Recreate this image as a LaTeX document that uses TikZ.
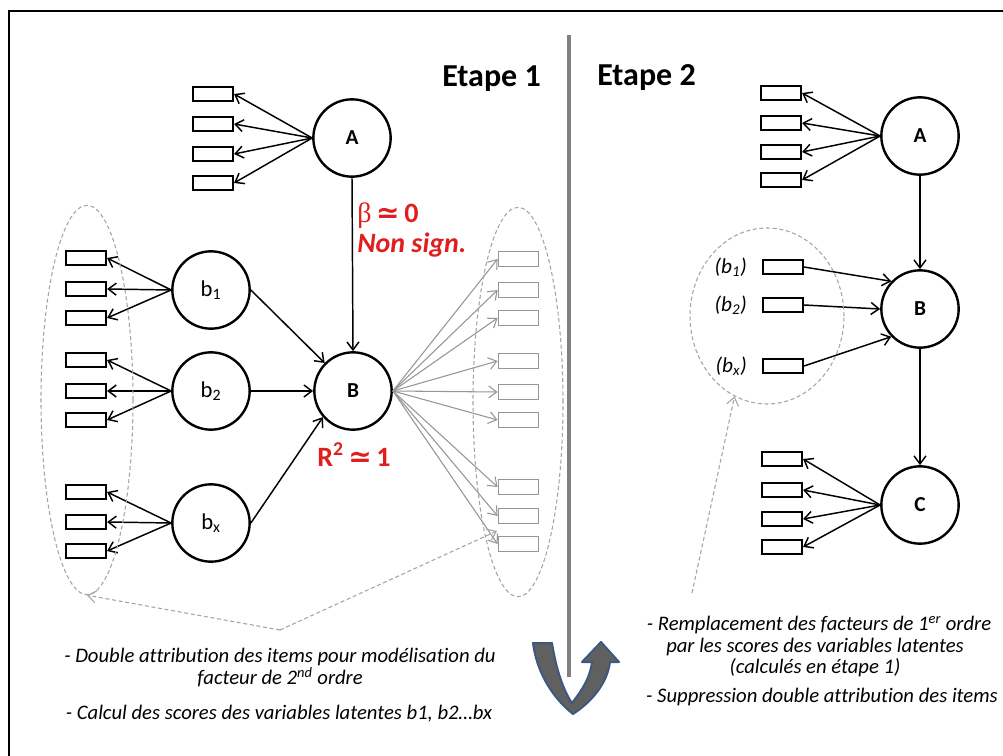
\documentclass[tikz,border=0pt]{standalone}
\usepackage{fontspec}
\setmainfont[Ligatures=CommonOff]{Carlito}
\newfontfamily\dejavu{DejaVu Sans}
\newfontfamily\serifgr{Liberation Serif}
\usetikzlibrary{arrows.meta,shapes.geometric}
\definecolor{redlab}{RGB}{224,30,30}
\definecolor{gline}{RGB}{150,150,150}
\definecolor{dline}{RGB}{165,165,165}
\definecolor{divgray}{RGB}{128,128,128}
\definecolor{ufill}{RGB}{96,96,96}
\definecolor{uedge}{RGB}{62,88,132}
\begin{document}
\begin{tikzpicture}[x=0.75pt,y=-0.75pt,
  lat/.style={circle,draw,line width=1.8pt,minimum size=58pt,inner sep=0pt,font=\fontsize{17}{20}\selectfont},
  latb/.style={lat,font=\fontsize{16}{19}\selectfont\bfseries},
  item/.style={rectangle,draw,line width=1.6pt,minimum width=30pt,minimum height=10pt,inner sep=0pt},
  gitem/.style={rectangle,draw=gline,line width=0.9pt,minimum width=30.5pt,minimum height=11pt,inner sep=0pt},
  arr/.style={-{Straight Barb[length=6pt,width=9pt]},line width=1.1pt},
  garr/.style={-{Straight Barb[length=6pt,width=9pt]},draw=gline,line width=0.8pt},
  dell/.style={ellipse,draw=dline,dashed,dash pattern=on 3pt off 2pt,line width=0.8pt,inner sep=0pt},
  darr/.style={-{Straight Barb[length=6pt,width=9pt]},draw=dline,dash pattern=on 3pt off 2pt,line width=0.8pt},
  ttl/.style={font=\fontsize{24}{28}\selectfont\bfseries,inner sep=0pt},
  redt/.style={text=redlab,font=\fontsize{21}{24}\selectfont\bfseries,inner sep=0pt},
  btxt/.style={font=\fontsize{15.5}{18}\selectfont\itshape,inner sep=0pt},
  blab/.style={font=\fontsize{16}{19}\selectfont\itshape,inner sep=0pt}]
\useasboundingbox (0,0) rectangle (1003,756);
\fill[white] (0,0) rectangle (1003,756);
% frame (top and left)
\draw[line width=1.5pt] (9,756) -- (9,11) -- (1003,11);
% divider
\draw[divgray,line width=3pt] (569,35) -- (569,677);
% titles
\node[ttl,anchor=base east] (e1) at (541,87) {Etape 1};
\node[ttl,anchor=base west] (e2) at (597,86) {Etape 2};

% ===== Etape 1 =====
\node[latb] (A1) at (352,138) {A};
\node[latb] (B1) at (353,391) {B};
\node[lat] (b1) at (211,290) {b\textsubscript{1}};
\node[lat] (b2) at (211,391) {b\textsubscript{2}};
\node[lat] (bx) at (211,523) {b\textsubscript{x}};

\foreach \i/\y in {1/94,2/124,3/154,4/183}{
  \node[item] (ai\i) at (213,\y) {};
  \draw[arr] (A1.west) -- (ai\i.east);
}
\foreach \i/\y in {1/258,2/289,3/318}{
  \node[item] (pi\i) at (86,\y) {};
  \draw[arr] (b1.west) -- (pi\i.east);
}
\foreach \i/\y in {1/360,2/391,3/420}{
  \node[item] (qi\i) at (86,\y) {};
  \draw[arr] (b2.west) -- (qi\i.east);
}
\foreach \i/\y in {1/492,2/522,3/551}{
  \node[item] (ri\i) at (86,\y) {};
  \draw[arr] (bx.west) -- (ri\i.east);
}
\foreach \i/\y in {1/259,2/290,3/318,4/361,5/392,6/420,7/487,8/516,9/544}{
  \node[gitem] (gi\i) at (518.5,\y) {};
  \draw[garr] (B1.east) -- (gi\i.west);
}
\draw[arr] (A1.south) -- (B1.north);
\draw[arr] (b1.east) -- (B1);
\draw[arr] (b2.east) -- (B1.west);
\draw[arr] (bx.east) -- (B1.221);

% red labels
\node[redt,anchor=base west] (beta) at (357,223) {{\serifgr\mdseries β}\,{\dejavu\bfseries ≃}\,0};
\node[redt,anchor=base west] (ns) at (357,252) {\itshape Non sign.};
\node[redt,anchor=base west] (r2) at (317,466) {R\textsuperscript{2}\,{\dejavu\bfseries ≃}\,1};

% dashed ellipses
\node[dell,minimum width=69pt,minimum height=292pt] (lell) at (87,400) {};
\node[dell,minimum width=67.5pt,minimum height=292pt] (rell) at (518,402) {};
\coordinate (bend) at (280,630);
\coordinate (rtip) at (497,531);
\draw[darr] (bend) -- (lell.south);
\draw[darr] (bend) -- (rtip);

% ===== Etape 2 =====
\node[latb] (A2) at (920,136) {A};
\node[latb] (B2) at (920,309) {B};
\node[latb] (C2) at (920,505) {C};
\foreach \i/\y in {1/93,2/123,3/152,4/180}{
  \node[item] (si\i) at (781,\y) {};
  \draw[arr] (A2.west) -- (si\i.east);
}
\foreach \i/\y in {1/459,2/490,3/519,4/547}{
  \node[item] (ci\i) at (782,\y) {};
  \draw[arr] (C2.west) -- (ci\i.east);
}
\node[item] (sc1) at (783,267) {};
\node[item] (sc2) at (783,305) {};
\node[item] (sc3) at (783,366) {};
\draw[arr] (sc1.east) -- (B2.136);
\draw[arr] (sc2.east) -- (B2.west);
\draw[arr] (sc3.east) -- (B2.224);
\node[blab,anchor=east] (lb1) at (747,267) {(b\textsubscript{1})};
\node[blab,anchor=east] (lb2) at (747,305) {(b\textsubscript{2})};
\node[blab,anchor=east] (lbx) at (747,366) {(b\textsubscript{x})};
\draw[arr] (A2.south) -- (B2.north);
\draw[arr] (B2.south) -- (C2.north);

\node[dell,minimum width=115.5pt,minimum height=132pt] (sell) at (767,316) {};
\coordinate (sstart) at (692,593);
\draw[darr] (sstart) -- (sell.248);

% U-turn arrow
\filldraw[fill=ufill,draw=uedge,line width=1.5pt,line join=round]
  (533,643) -- (552,643) .. controls (556,668) and (563,690) .. (572,703)
  .. controls (582,690) and (590,678) .. (592,662) -- (582,662) -- (601,642)
  -- (619,662) -- (610,662) .. controls (607,685) and (590,703) .. (573,714)
  .. controls (555,700) and (537,675) .. (533,643) -- cycle;

% bottom texts
\node[btxt,anchor=base] (l1) at (280,662) {- Double attribution des items pour modélisation du};
\node[btxt,anchor=base] (l2) at (280,684) {facteur de 2\textsuperscript{nd} ordre};
\node[btxt,anchor=base] (l3) at (279,719) {- Calcul des scores des variables latentes b1, b2…bx};
\node[btxt,anchor=base] (r1) at (819,630) {- Remplacement des facteurs de 1\textsuperscript{er} ordre};
\node[btxt,anchor=base] (r2t) at (815,652) {par les scores des variables latentes};
\node[btxt,anchor=base] (r3) at (815,673) {(calculés en étape 1)};
\node[btxt,anchor=base] (r4) at (822,702) {- Suppression double attribution des items};
\end{tikzpicture}
\end{document}
